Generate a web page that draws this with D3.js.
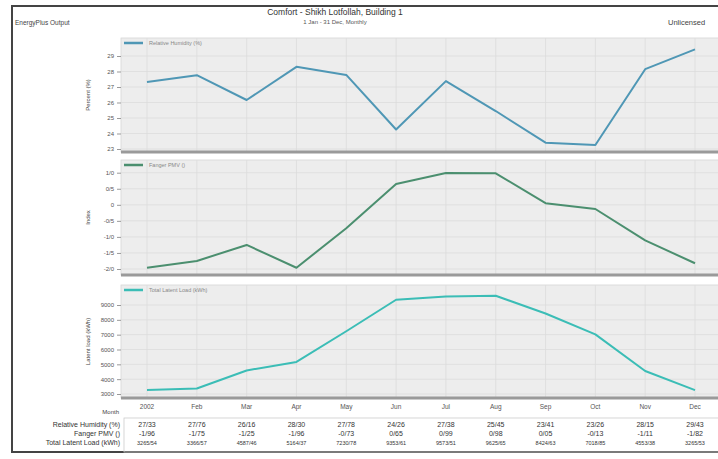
<!DOCTYPE html>
<html>
<head>
<meta charset="utf-8">
<script src="https://cdn.jsdelivr.net/npm/d3@7"></script>
<style>
  html, body { margin: 0; padding: 0; background: #fff; }
  svg { display: block; font-family: "Liberation Sans", Arial, sans-serif; }
</style>
</head>
<body>
<svg id="chart" width="718" height="459"></svg>
<script>
// Monthly comfort results
const months = ["Jan", "Feb", "Mar", "Apr", "May", "Jun", "Jul", "Aug", "Sep", "Oct", "Nov", "Dec"];
const monthLabels = ["2002", "Feb", "Mar", "Apr", "May", "Jun", "Jul", "Aug", "Sep", "Oct", "Nov", "Dec"];
const relHumidity = [27.33, 27.76, 26.16, 28.30, 27.78, 24.26, 27.38, 25.45, 23.41, 23.26, 28.15, 29.43];
const fangerPMV = [-1.96, -1.75, -1.25, -1.96, -0.73, 0.65, 0.99, 0.98, 0.05, -0.13, -1.11, -1.82];
const latentLoad = [3265.54, 3366.57, 4587.46, 5164.37, 7230.78, 9353.61, 9573.51, 9625.65, 8424.63, 7018.85, 4553.38, 3265.53];
const rhTicks = [23, 24, 25, 26, 27, 28, 29];
const pmvTicks = [-2, -1.5, -1, -0.5, 0, 0.5, 1];
const latentTicks = [3000, 4000, 5000, 6000, 7000, 8000, 9000];

const svg = d3.select("#chart");

// number formatting: plain hyphen minus, slash as decimal mark
const dec = (v, n) => d3.format(`.${n}f`)(v).replace("\u2212", "-").replace(".", "/");

// outer frame
svg.append("rect").attr("x", 12).attr("y", 6).attr("width", 730).attr("height", 446)
  .attr("fill", "none").attr("stroke", "#444").attr("stroke-width", 2);

// header
svg.append("text").attr("x", 335).attr("y", 15).attr("text-anchor", "middle")
  .attr("font-size", 8.5).attr("fill", "#333").text("Comfort - Shikh Lotfollah, Building 1");
svg.append("text").attr("x", 335).attr("y", 24).attr("text-anchor", "middle")
  .attr("font-size", 6).attr("fill", "#555").text("1 Jan - 31 Dec, Monthly");
svg.append("text").attr("x", 15).attr("y", 25)
  .attr("font-size", 6.5).attr("fill", "#444").text("EnergyPlus Output");
svg.append("text").attr("x", 668).attr("y", 25)
  .attr("font-size", 7.5).attr("fill", "#444").text("Unlicensed");

const x = d3.scalePoint().domain(months).range([147, 695]);
const plotLeft = 121, plotRight = 720;

const panels = [
  { values: relHumidity, ticks: rhTicks, top: 38, bottom: 152, domain: [23, 29], range: [149, 56],
    color: "#4f97b5", name: "Relative Humidity (%)", axis: "Percent (%)", fmt: d3.format("d") },
  { values: fangerPMV, ticks: pmvTicks, top: 160, bottom: 275, domain: [-2, 1], range: [269, 172.7],
    color: "#4b8f6f", name: "Fanger PMV ()", axis: "Index", fmt: v => v === 0 ? "0" : dec(v, 1) },
  { values: latentLoad, ticks: latentTicks, top: 285, bottom: 398, domain: [3000, 9000], range: [394, 305],
    color: "#3bbdb6", name: "Total Latent Load (kWh)", axis: "Latent load (kWh)", fmt: d3.format("d") }
];

panels.forEach(p => {
  const y = d3.scaleLinear().domain(p.domain).range(p.range);
  const g = svg.append("g");

  g.append("rect").attr("x", plotLeft).attr("y", p.top)
    .attr("width", plotRight - plotLeft).attr("height", p.bottom - p.top)
    .attr("fill", "#ededed").attr("stroke", "#d6d6d6").attr("stroke-width", 0.8);

  // grid
  g.selectAll(".hg").data(p.ticks).join("line")
    .attr("x1", plotLeft).attr("x2", plotRight)
    .attr("y1", d => y(d)).attr("y2", d => y(d))
    .attr("stroke", "#dcdcdc").attr("stroke-width", 0.8);
  g.selectAll(".vg").data(months).join("line")
    .attr("x1", d => x(d)).attr("x2", d => x(d))
    .attr("y1", p.top).attr("y2", p.bottom)
    .attr("stroke", "#dcdcdc").attr("stroke-width", 0.8);

  // base bar
  g.append("rect").attr("x", plotLeft).attr("y", p.bottom - 1.5)
    .attr("width", plotRight - plotLeft).attr("height", 3).attr("fill", "#9a9a9a");

  // y axis
  const ax = g.append("g").attr("transform", `translate(${plotLeft},0)`)
    .call(d3.axisLeft(y).tickValues(p.ticks).tickFormat(p.fmt).tickSize(4).tickPadding(3));
  ax.select(".domain").remove();
  ax.selectAll(".tick line").attr("stroke", "#999");
  ax.selectAll(".tick text").attr("font-size", 6).attr("fill", "#555")
    .attr("font-family", "Liberation Sans, Arial, sans-serif");

  g.append("text")
    .attr("transform", `translate(90,${(p.top + p.bottom) / 2}) rotate(-90)`)
    .attr("text-anchor", "middle").attr("font-size", 6).attr("fill", "#444").text(p.axis);

  // legend
  g.append("line").attr("x1", 124).attr("x2", 143).attr("y1", p.top + 5).attr("y2", p.top + 5)
    .attr("stroke", p.color).attr("stroke-width", 2.5);
  g.append("text").attr("x", 149).attr("y", p.top + 7).attr("font-size", 5.5).attr("fill", "#888").text(p.name);

  // series
  g.append("path").datum(p.values)
    .attr("d", d3.line().x((d, i) => x(months[i])).y(d => y(d)))
    .attr("fill", "none").attr("stroke", p.color).attr("stroke-width", 2)
    .attr("stroke-linejoin", "round");
});

// month axis
svg.selectAll(".ml").data(months).join("text")
  .attr("x", d => x(d)).attr("y", 409).attr("text-anchor", "middle")
  .attr("font-size", 6.5).attr("fill", "#555").text((d, i) => monthLabels[i]);
svg.append("text").attr("x", 119).attr("y", 414).attr("text-anchor", "end")
  .attr("font-size", 6).attr("fill", "#444").text("Month");

// data table
svg.append("rect").attr("x", 124).attr("y", 418).attr("width", 600).attr("height", 34)
  .attr("fill", "none").attr("stroke", "#ccc").attr("stroke-width", 0.8);
const rows = [
  { label: "Relative Humidity (%)", values: relHumidity, y: 427 },
  { label: "Fanger PMV ()", values: fangerPMV, y: 436 },
  { label: "Total Latent Load (kWh)", values: latentLoad, y: 445 }
];
rows.forEach(r => {
  svg.append("text").attr("x", 120).attr("y", r.y).attr("text-anchor", "end")
    .attr("font-size", 7).attr("fill", "#333").text(r.label);
  svg.selectAll(null).data(r.values).join("text")
    .attr("x", (d, i) => x(months[i])).attr("y", r.y).attr("text-anchor", "middle")
    .attr("font-size", r === rows[2] ? 5.5 : 7).attr("fill", "#333").text(d => dec(d, 2));
});
</script>
</body>
</html>
